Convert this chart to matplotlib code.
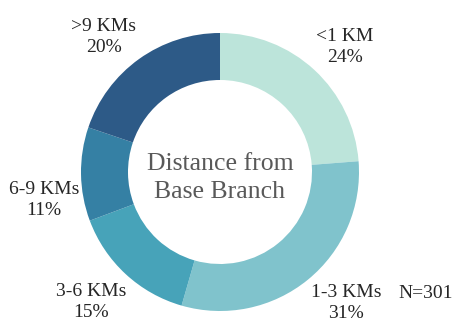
import matplotlib.pyplot as plt

# distance from base branch, share of respondents (%)
categories = ['<1 KM', '1-3 KMs', '3-6 KMs', '6-9 KMs', '>9 KMs']
shares = [24, 31, 15, 11, 20]
sample_size = 301

colors = ['#BCE4DA', '#80C3CC', '#47A3B9', '#3580A4', '#2D5A87']

# label centres in pixel space (origin top-left)
label_xy = [(345, 47), (346, 303), (91, 302), (44, 200), (104, 37)]

W, H = 456, 323
fig = plt.figure(figsize=(W / 100, H / 100), dpi=100)
ax = fig.add_axes([0, 0, 1, 1])

cx, cy, R = 220, H - 172, 139
ax.pie(shares, colors=colors, startangle=90, counterclock=False,
       center=(cx, cy), radius=R, frame=True,
       wedgeprops=dict(width=47, linewidth=0))
ax.set_xlim(0, W)
ax.set_ylim(0, H)
ax.set_aspect('equal')
ax.axis('off')

font = 'Liberation Serif'
for name, val, (x, y) in zip(categories, shares, label_xy):
    ax.text(x, H - y, f'{name}\n{val}%', ha='center', va='center',
            fontsize=14, family=font, color='#262626', linespacing=1.35)

ax.text(426, H - 293, f'N={sample_size}', ha='center', va='center',
        fontsize=14, family=font, color='#262626')

ax.text(cx, H - 178, 'Distance from\nBase Branch', ha='center', va='center',
        fontsize=18.5, family=font, color='#595959', linespacing=1.4)

fig.savefig('out.png', dpi=100)
